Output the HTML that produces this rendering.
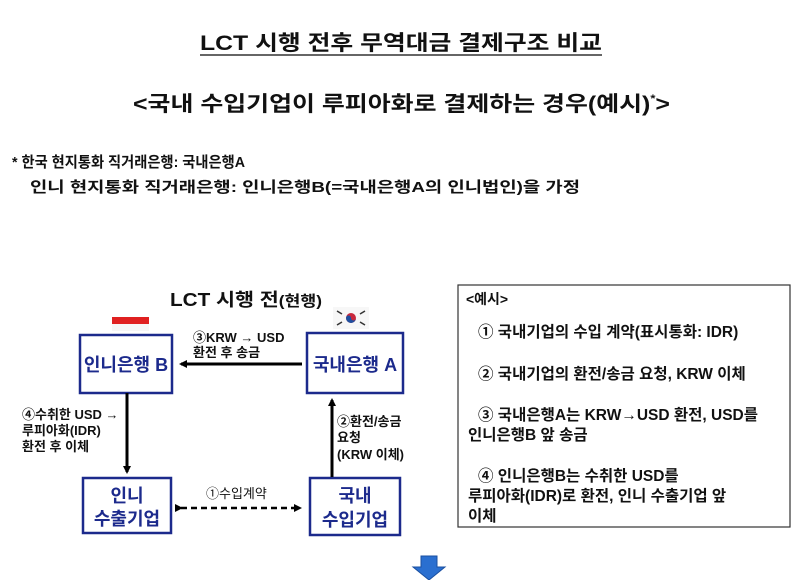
<!DOCTYPE html>
<html><head><meta charset="utf-8"><style>
html,body{margin:0;padding:0;background:#fff;}
svg text{font-family:"Liberation Sans","Noto Sans CJK KR",sans-serif;font-weight:bold;fill:#111;}
</style></head><body>
<svg width="800" height="580" xmlns="http://www.w3.org/2000/svg">
<defs>
<marker id="ah" markerWidth="8" markerHeight="8" refX="6" refY="4" orient="auto" markerUnits="userSpaceOnUse"><path d="M0,0 L8,4 L0,8 z" fill="#000"/></marker>
</defs>
<text x="200" y="50" font-size="21" textLength="402" lengthAdjust="spacingAndGlyphs">LCT 시행 전후 무역대금 결제구조 비교</text>
<line x1="200" y1="55" x2="602" y2="55" stroke="#333" stroke-width="1.5"/>
<text x="133" y="111" font-size="21" textLength="537" lengthAdjust="spacingAndGlyphs">&lt;국내 수입기업이 루피아화로 결제하는 경우(예시)<tspan font-size="11" dy="-9">*</tspan><tspan dy="9">&gt;</tspan></text>
<text x="12" y="167" font-size="15" textLength="233" lengthAdjust="spacingAndGlyphs">* 한국 현지통화 직거래은행: 국내은행A</text>
<text x="30" y="192" font-size="15" textLength="550" lengthAdjust="spacingAndGlyphs">인니 현지통화 직거래은행: 인니은행B(=국내은행A의 인니법인)을 가정</text>

<text x="170" y="306" font-size="18" textLength="152" lengthAdjust="spacingAndGlyphs">LCT 시행 전<tspan font-size="15">(현행)</tspan></text>
<rect x="112" y="317" width="37" height="7" fill="#e02020"/>
<rect x="112" y="324" width="37" height="7" fill="#f6f6f6"/>
<rect x="333" y="307" width="36" height="22" fill="#f7f7f7"/>
<circle cx="351" cy="318" r="5" fill="#c8283c"/>
<path d="M346,318 a5,5 0 0,0 10,0 a2.5,2.5 0 0,1 -5,0 a2.5,2.5 0 0,0 -5,0z" fill="#1e4fa0"/>
<g stroke="#333" stroke-width="1.5"><line x1="337" y1="311" x2="342" y2="314"/><line x1="360" y1="322" x2="365" y2="325"/><line x1="360" y1="314" x2="365" y2="311"/><line x1="337" y1="325" x2="342" y2="322"/></g>

<g fill="#fff" stroke="#1c2a8c" stroke-width="2.5">
<rect x="80" y="335" width="92" height="58"/>
<rect x="307" y="333" width="96" height="60"/>
<rect x="83" y="478" width="88" height="55"/>
<rect x="310" y="478" width="90" height="57"/>
</g>
<g font-size="18" text-anchor="middle">
<text x="126" y="371" style="fill:#1c2a8c">인니은행 B</text>
<text x="355" y="371" style="fill:#1c2a8c">국내은행 A</text>
<text x="127" y="502" style="fill:#1c2a8c">인니</text>
<text x="127" y="525" style="fill:#1c2a8c">수출기업</text>
<text x="355" y="502" style="fill:#1c2a8c">국내</text>
<text x="355" y="526" style="fill:#1c2a8c">수입기업</text>
</g>

<line x1="302" y1="364" x2="181" y2="364" stroke="#000" stroke-width="3" marker-end="url(#ah)"/>
<text x="193" y="342" font-size="13">③KRW → USD</text>
<text x="193" y="357" font-size="13">환전 후 송금</text>
<line x1="127" y1="393" x2="127" y2="472" stroke="#000" stroke-width="3" marker-end="url(#ah)"/>
<text x="22" y="419" font-size="13">④수취한 USD →</text>
<text x="22" y="435" font-size="13">루피아화(IDR)</text>
<text x="22" y="451" font-size="13">환전 후 이체</text>
<line x1="332" y1="477" x2="332" y2="400" stroke="#000" stroke-width="3" marker-end="url(#ah)"/>
<text x="337" y="426" font-size="13">②환전/송금</text>
<text x="337" y="442" font-size="13">요청</text>
<text x="337" y="459" font-size="13">(KRW 이체)</text>
<line x1="181" y1="508" x2="300" y2="508" stroke="#000" stroke-width="2.5" stroke-dasharray="6,4" marker-end="url(#ah)" marker-start="url(#ah)"/>
<text x="206" y="498" font-size="13" style="font-weight:normal">①수입계약</text>

<rect x="458" y="285" width="332" height="242" fill="none" stroke="#333" stroke-width="1.2"/>
<text x="466" y="304" font-size="14">&lt;예시&gt;</text>
<g font-size="15.5">
<text x="478" y="337">① 국내기업의 수입 계약(표시통화: IDR)</text>
<text x="478" y="379">② 국내기업의 환전/송금 요청, KRW 이체</text>
<text x="478" y="420">③ 국내은행A는 KRW→USD 환전, USD를</text>
<text x="468" y="440">인니은행B 앞 송금</text>
<text x="478" y="481">④ 인니은행B는 수취한 USD를</text>
<text x="468" y="501">루피아화(IDR)로 환전, 인니 수출기업 앞</text>
<text x="468" y="521">이체</text>
</g>
<path d="M421,556 L437,556 L437,567 L445,567 L429,580 L413,567 L421,567 z" fill="#2a6fd0" stroke="#1a4fa0" stroke-width="1"/>
</svg>
</body></html>
